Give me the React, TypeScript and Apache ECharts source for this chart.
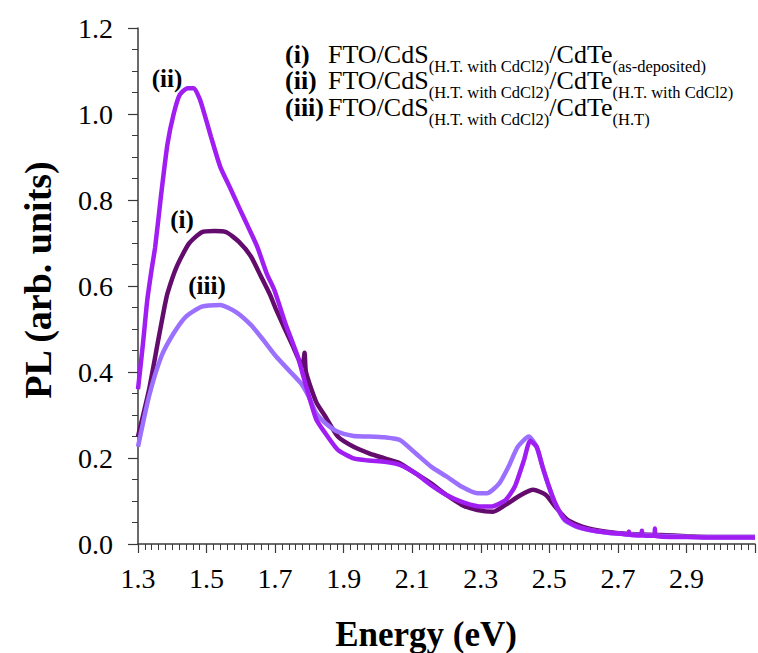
import React, { useEffect, useRef } from "react";
import * as echarts from "echarts";

// ---------- data ----------
const ENERGY_I = [1.3, 1.332, 1.359, 1.377, 1.386, 1.413, 1.449, 1.486, 1.522, 1.558, 1.594, 1.63, 1.657, 1.685, 1.703, 1.748, 1.78, 1.786, 1.79, 1.82, 1.847, 1.883, 1.929, 1.974, 2.02, 2.064, 2.11, 2.155, 2.2, 2.245, 2.29, 2.336, 2.372, 2.417, 2.453, 2.49, 2.517, 2.553, 2.598, 2.661, 2.734, 2.824, 2.9, 3.0, 3.1];
const PL_I = [0.25, 0.358, 0.474, 0.55, 0.583, 0.645, 0.699, 0.725, 0.728, 0.725, 0.703, 0.668, 0.625, 0.58, 0.545, 0.467, 0.415, 0.445, 0.4, 0.33, 0.296, 0.25, 0.226, 0.211, 0.199, 0.188, 0.164, 0.141, 0.114, 0.091, 0.079, 0.075, 0.091, 0.114, 0.126, 0.114, 0.087, 0.056, 0.04, 0.029, 0.023, 0.021, 0.018, 0.016, 0.016];

const ENERGY_II = [1.3, 1.315, 1.327, 1.34, 1.35, 1.368, 1.386, 1.404, 1.422, 1.445, 1.463, 1.48, 1.49, 1.513, 1.54, 1.567, 1.594, 1.621, 1.648, 1.676, 1.698, 1.73, 1.766, 1.793, 1.82, 1.847, 1.883, 1.929, 1.974, 2.02, 2.064, 2.11, 2.155, 2.2, 2.245, 2.29, 2.33, 2.372, 2.399, 2.426, 2.444, 2.463, 2.48, 2.499, 2.517, 2.544, 2.58, 2.643, 2.716, 2.73, 2.732, 2.734, 2.768, 2.77, 2.772, 2.806, 2.808, 2.81, 2.9, 3.0, 3.1];
const PL_II = [0.36, 0.47, 0.567, 0.64, 0.69, 0.816, 0.93, 1.0, 1.045, 1.06, 1.06, 1.035, 1.01, 0.947, 0.877, 0.831, 0.784, 0.738, 0.691, 0.628, 0.59, 0.513, 0.436, 0.36, 0.29, 0.257, 0.219, 0.199, 0.194, 0.191, 0.184, 0.164, 0.137, 0.114, 0.098, 0.088, 0.087, 0.102, 0.133, 0.195, 0.24, 0.226, 0.18, 0.133, 0.095, 0.058, 0.041, 0.029, 0.023, 0.022, 0.029, 0.022, 0.02, 0.031, 0.02, 0.019, 0.036, 0.019, 0.016, 0.015, 0.015];

const ENERGY_III = [1.3, 1.332, 1.368, 1.404, 1.44, 1.486, 1.54, 1.585, 1.63, 1.666, 1.703, 1.739, 1.775, 1.798, 1.82, 1.847, 1.883, 1.929, 1.974, 2.02, 2.064, 2.11, 2.155, 2.2, 2.245, 2.29, 2.318, 2.354, 2.381, 2.408, 2.44, 2.463, 2.48, 2.499, 2.517, 2.544, 2.58, 2.643, 2.716, 2.824, 2.9, 3.0, 3.1];
const PL_III = [0.226, 0.343, 0.436, 0.49, 0.529, 0.552, 0.556, 0.54, 0.509, 0.474, 0.436, 0.405, 0.374, 0.343, 0.304, 0.281, 0.261, 0.251, 0.25, 0.248, 0.242, 0.211, 0.18, 0.157, 0.133, 0.118, 0.118, 0.141, 0.18, 0.226, 0.25, 0.226, 0.18, 0.133, 0.095, 0.056, 0.04, 0.029, 0.023, 0.019, 0.017, 0.016, 0.016];

const CURVE_TAGS = ["(i)", "(ii)", "(iii)"];
const LEGEND_PARTS = [
  ["FTO/CdS", "(H.T. with CdCl2)", "/CdTe", "(as-deposited)"],
  ["FTO/CdS", "(H.T. with CdCl2)", "/CdTe", "(H.T. with CdCl2)"],
  ["FTO/CdS", "(H.T. with CdCl2)", "/CdTe", "(H.T)"],
];
const X_TITLE = "Energy (eV)";
const Y_TITLE = "PL (arb. units)";

// ---------- styling ----------
const COLOR_I = "#640c6e";
const COLOR_II = "#a01ef2";
const COLOR_III = "#9c70ff";
const SERIF = "Liberation Serif";
const AXIS_COLOR = "#3a3a3a";

function measure(text: string, font: string): number {
  const ctx = document.createElement("canvas").getContext("2d");
  if (!ctx) return text.length * 10;
  ctx.font = font;
  return ctx.measureText(text).width;
}

function legendElements() {
  const els: any[] = [];
  const mainFont = `26px ${SERIF}`;
  const subFont = `16.5px ${SERIF}`;
  const tagFont = `bold 26px ${SERIF}`;
  LEGEND_PARTS.forEach((parts, r) => {
    const y = 54 + r * 26.5;
    els.push({
      type: "text",
      x: 285,
      y,
      style: { text: CURVE_TAGS[r], font: tagFont, fill: "#000", align: "left", verticalAlign: "middle" },
    });
    let x = 328;
    parts.forEach((p, k) => {
      const isSub = k % 2 === 1;
      const font = isSub ? subFont : mainFont;
      els.push({
        type: "text",
        x,
        y: isSub ? y + 12 : y,
        style: { text: p, font, fill: "#000", align: "left", verticalAlign: "middle" },
      });
      x += measure(p, font);
    });
  });
  return els;
}

export default function App() {
  const ref = useRef<HTMLDivElement>(null);
  useEffect(() => {
    if (!ref.current) return;
    const chart = echarts.init(ref.current, undefined, { renderer: "svg" });
    const zip = (xs: number[], ys: number[]) => xs.map((x, i) => [x, ys[i]]);
    const lineSeries = (name: string, data: number[][], color: string) => ({
      name,
      type: "line",
      data,
      showSymbol: false,
      symbol: "none",
      smooth: 0.2,
      lineStyle: { width: 4.5, color },
      itemStyle: { color },
      z: 2,
    });
    const labelFont = { fontFamily: SERIF, fontSize: 28, color: "#000" };
    chart.setOption({
      animation: false,
      backgroundColor: "#fff",
      grid: { left: 138, top: 28, right: -44, bottom: 109, containLabel: false },
      xAxis: {
        type: "value",
        min: 1.3,
        max: 3.1,
        interval: 0.2,
        axisLine: { show: true, lineStyle: { color: AXIS_COLOR, width: 1.5 } },
        axisTick: { show: true, inside: false, length: 9, lineStyle: { color: AXIS_COLOR, width: 1.2 } },
        minorTick: { show: true, splitNumber: 10, length: 6, lineStyle: { color: AXIS_COLOR, width: 1 } },
        splitLine: { show: false },
        minorSplitLine: { show: false },
        axisLabel: {
          ...labelFont,
          margin: 20,
          formatter: (v: number) => (v > 2.95 ? "" : v.toFixed(1)),
        },
      },
      yAxis: {
        type: "value",
        min: 0,
        max: 1.2,
        interval: 0.2,
        axisLine: { show: true, lineStyle: { color: AXIS_COLOR, width: 1.5 } },
        axisTick: { show: true, inside: false, length: 10, lineStyle: { color: AXIS_COLOR, width: 1.2 } },
        minorTick: { show: true, splitNumber: 4, length: 6, lineStyle: { color: AXIS_COLOR, width: 1 } },
        splitLine: { show: false },
        axisLabel: { ...labelFont, margin: 25, formatter: (v: number) => v.toFixed(1) },
      },
      series: [
        lineSeries("(i)", zip(ENERGY_I, PL_I), COLOR_I),
        lineSeries("(iii)", zip(ENERGY_III, PL_III), COLOR_III),
        lineSeries("(ii)", zip(ENERGY_II, PL_II), COLOR_II),
      ],
      graphic: [
        {
          type: "text",
          x: 426,
          y: 634,
          style: { text: X_TITLE, font: `bold 35px ${SERIF}`, fill: "#000", align: "center", verticalAlign: "middle" },
        },
        {
          type: "text",
          x: 38,
          y: 280,
          rotation: Math.PI / 2,
          style: { text: Y_TITLE, font: `bold 38px ${SERIF}`, fill: "#000", align: "center", verticalAlign: "middle" },
        },
        {
          type: "text",
          x: 167,
          y: 78,
          style: { text: CURVE_TAGS[1], font: `bold 25px ${SERIF}`, fill: "#000", align: "center", verticalAlign: "middle" },
        },
        {
          type: "text",
          x: 182,
          y: 219,
          style: { text: CURVE_TAGS[0], font: `bold 25px ${SERIF}`, fill: "#000", align: "center", verticalAlign: "middle" },
        },
        {
          type: "text",
          x: 207,
          y: 285,
          style: { text: CURVE_TAGS[2], font: `bold 25px ${SERIF}`, fill: "#000", align: "center", verticalAlign: "middle" },
        },
        ...legendElements(),
      ],
    });
    return () => chart.dispose();
  }, []);
  return (
    <div
      ref={ref}
      style={{ position: "fixed", left: 0, top: 0, width: 758, height: 653, background: "#fff" }}
    />
  );
}
